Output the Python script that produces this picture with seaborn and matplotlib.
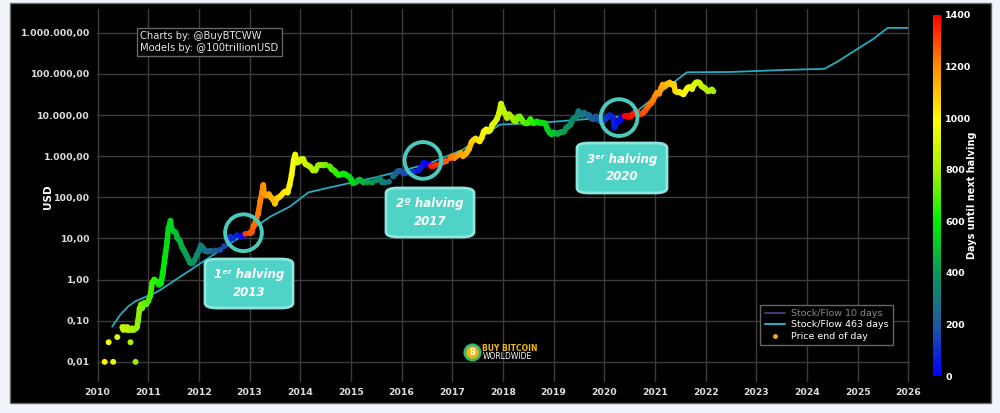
import numpy as np
import pandas as pd
import matplotlib
matplotlib.use("Agg")
import matplotlib.pyplot as plt
import seaborn as sns
from matplotlib.colors import LinearSegmentedColormap, Normalize
from matplotlib.collections import LineCollection
from matplotlib.lines import Line2D
from matplotlib.patches import FancyBboxPatch, Rectangle
from matplotlib.ticker import FuncFormatter, FixedLocator, NullLocator

# price end of day (decimal year, USD)
price_year = [
    2010.14, 2010.22, 2010.31, 2010.39, 2010.49, 2010.51, 2010.53, 2010.55, 2010.57, 2010.59,
    2010.61, 2010.63, 2010.65, 2010.66, 2010.68, 2010.70, 2010.72, 2010.75, 2010.76, 2010.78,
    2010.80, 2010.83, 2010.86, 2010.88, 2010.92,
    2010.96, 2011.00, 2011.04, 2011.08, 2011.12, 2011.17, 2011.21, 2011.25, 2011.29, 2011.33,
    2011.37, 2011.40, 2011.44, 2011.46, 2011.50, 2011.54, 2011.58, 2011.62, 2011.67, 2011.71,
    2011.75, 2011.79, 2011.83, 2011.87, 2011.92, 2011.96, 2012.00, 2012.04, 2012.08, 2012.12,
    2012.17, 2012.21, 2012.25, 2012.33, 2012.42, 2012.50, 2012.58, 2012.62, 2012.67, 2012.75,
    2012.83, 2012.88, 2012.92, 2013.00, 2013.04, 2013.08, 2013.12, 2013.17, 2013.21, 2013.25,
    2013.27, 2013.29, 2013.33, 2013.38, 2013.42, 2013.46, 2013.50, 2013.54, 2013.58, 2013.62,
    2013.67, 2013.71, 2013.75, 2013.79, 2013.83, 2013.87, 2013.90, 2013.94, 2013.98, 2014.02,
    2014.06, 2014.10, 2014.15, 2014.20, 2014.25, 2014.30, 2014.35, 2014.40, 2014.46, 2014.50,
    2014.58, 2014.62, 2014.67, 2014.71, 2014.75, 2014.80, 2014.85, 2014.90, 2014.96, 2015.00,
    2015.04, 2015.08, 2015.13, 2015.17, 2015.21, 2015.25, 2015.33, 2015.42, 2015.50, 2015.54,
    2015.58, 2015.62, 2015.67, 2015.75, 2015.83, 2015.88, 2015.92, 2015.96, 2016.00, 2016.04,
    2016.08, 2016.17, 2016.25, 2016.33, 2016.38, 2016.44, 2016.48, 2016.52, 2016.58, 2016.62,
    2016.67, 2016.75, 2016.79, 2016.83, 2016.88, 2016.96, 2017.00, 2017.04, 2017.08, 2017.13,
    2017.17, 2017.21, 2017.25, 2017.29, 2017.33, 2017.38, 2017.42, 2017.46, 2017.50, 2017.54,
    2017.58, 2017.62, 2017.67, 2017.71, 2017.75, 2017.79, 2017.83, 2017.88, 2017.92, 2017.96,
    2018.00, 2018.04, 2018.08, 2018.12, 2018.17, 2018.21, 2018.25, 2018.29, 2018.33, 2018.38,
    2018.42, 2018.46, 2018.50, 2018.54, 2018.58, 2018.62, 2018.67, 2018.71, 2018.75, 2018.79,
    2018.83, 2018.88, 2018.92, 2018.96, 2019.00, 2019.04, 2019.08, 2019.13, 2019.17, 2019.21,
    2019.25, 2019.29, 2019.33, 2019.38, 2019.42, 2019.46, 2019.49, 2019.52, 2019.56, 2019.60,
    2019.65, 2019.70, 2019.74, 2019.79, 2019.83, 2019.87, 2019.90, 2019.94, 2019.98, 2020.02,
    2020.06, 2020.10, 2020.13, 2020.17, 2020.20, 2020.23, 2020.27, 2020.31, 2020.33, 2020.36,
    2020.40, 2020.44, 2020.48, 2020.52, 2020.56, 2020.60, 2020.65, 2020.69, 2020.73, 2020.77,
    2020.81, 2020.85, 2020.88, 2020.92, 2020.96, 2021.00, 2021.04, 2021.08, 2021.12, 2021.15,
    2021.19, 2021.23, 2021.27, 2021.29, 2021.33, 2021.37, 2021.40, 2021.44, 2021.48, 2021.52,
    2021.56, 2021.58, 2021.62, 2021.65, 2021.69, 2021.73, 2021.77, 2021.81, 2021.85, 2021.88,
    2021.92, 2021.96, 2022.00, 2022.04, 2022.08, 2022.12, 2022.15,
]
price_usd = [
    0.01, 0.03, 0.01, 0.04, 0.07, 0.06, 0.07, 0.065, 0.06, 0.07,
    0.06, 0.06, 0.03, 0.06, 0.065, 0.06, 0.06, 0.01, 0.065, 0.07,
    0.10, 0.20, 0.25, 0.20, 0.27,
    0.25, 0.30, 0.40, 0.85, 1.0, 0.90, 0.75, 0.80, 1.5, 3.5,
    8.0, 18.0, 27.0, 17.0, 15.0, 14.0, 10.0, 9.0, 6.0, 5.0,
    4.0, 3.2, 2.5, 2.5, 3.0, 4.0, 5.0, 6.8, 6.0, 5.0,
    4.8, 4.9, 5.0, 5.1, 5.3, 6.5, 8.5, 11.0, 10.0, 12.0,
    11.0, 12.0, 13.0, 13.5, 14.0, 20.0, 26.0, 40.0, 80.0, 140.0,
    200.0, 120.0, 110.0, 120.0, 100.0, 90.0, 70.0, 95.0, 100.0, 110.0,
    130.0, 140.0, 130.0, 200.0, 350.0, 800.0, 1100.0, 700.0, 750.0, 850.0,
    850.0, 650.0, 600.0, 550.0, 450.0, 450.0, 600.0, 620.0, 600.0, 620.0,
    570.0, 480.0, 450.0, 390.0, 350.0, 360.0, 380.0, 360.0, 320.0, 280.0,
    220.0, 230.0, 250.0, 270.0, 250.0, 230.0, 235.0, 230.0, 260.0, 280.0,
    270.0, 230.0, 230.0, 240.0, 320.0, 380.0, 430.0, 440.0, 430.0, 380.0,
    390.0, 415.0, 420.0, 450.0, 530.0, 700.0, 650.0, 660.0, 580.0, 575.0,
    610.0, 630.0, 700.0, 730.0, 760.0, 900.0, 1000.0, 900.0, 1000.0, 1100.0,
    1200.0, 1000.0, 1100.0, 1250.0, 1500.0, 2200.0, 2500.0, 2700.0, 2500.0, 2300.0,
    2800.0, 4000.0, 4500.0, 4000.0, 4300.0, 5800.0, 6500.0, 8000.0, 11000.0, 19000.0,
    14000.0, 11000.0, 8500.0, 10500.0, 9000.0, 7500.0, 7000.0, 9000.0, 9300.0, 7500.0,
    6500.0, 6300.0, 6500.0, 8000.0, 6500.0, 6400.0, 7000.0, 6500.0, 6600.0, 6400.0,
    6300.0, 4500.0, 3700.0, 3400.0, 3800.0, 3600.0, 3500.0, 3800.0, 3900.0, 4000.0,
    5000.0, 5300.0, 5800.0, 8000.0, 8500.0, 9500.0, 12500.0, 11000.0, 10000.0, 11500.0,
    10200.0, 10000.0, 8300.0, 8000.0, 9300.0, 8500.0, 7300.0, 7200.0, 7200.0, 8000.0,
    9000.0, 10000.0, 9700.0, 8700.0, 5000.0, 6500.0, 6800.0, 7500.0, 8800.0, 9000.0,
    9500.0, 9700.0, 9200.0, 9300.0, 10500.0, 11500.0, 11800.0, 10500.0, 10700.0, 11500.0,
    13000.0, 15500.0, 18000.0, 19000.0, 23000.0, 29000.0, 35000.0, 33000.0, 45000.0, 55000.0,
    50000.0, 57000.0, 59000.0, 62000.0, 55000.0, 57000.0, 38000.0, 36000.0, 37000.0, 34000.0,
    32000.0, 35000.0, 42000.0, 47000.0, 48000.0, 43000.0, 55000.0, 62000.0, 63000.0, 60000.0,
    50000.0, 47000.0, 43000.0, 38000.0, 39000.0, 42000.0, 38000.0,
]

# stock/flow 463 days model line
sf_year = [2010.29, 2010.45, 2010.60, 2010.75, 2010.95, 2011.10, 2011.24, 2011.83, 2012.82,
           2013.41, 2013.80, 2014.16, 2014.50, 2014.99, 2015.50, 2015.97, 2016.56, 2017.21,
           2017.94, 2018.50, 2019.00, 2019.65, 2019.97, 2020.35, 2020.64, 2021.10, 2021.63,
           2022.50, 2023.00, 2023.50, 2024.34, 2024.60, 2024.97, 2025.30, 2025.59, 2025.98]
sf_usd = [0.072, 0.14, 0.22, 0.30, 0.38, 0.45, 0.56, 1.7, 11.0,
          34.0, 60.0, 132.0, 165.0, 225.0, 310.0, 430.0, 680.0, 1450.0,
          5900.0, 6300.0, 6900.0, 8000.0, 8400.0, 9200.0, 12400.0, 35000.0, 110000.0,
          112000.0, 118000.0, 125000.0, 133000.0, 200000.0, 390000.0, 700000.0, 1320000.0, 1320000.0]

halving_year = [2012.91, 2016.52, 2020.36, 2024.30]
halving_mark_year = [2012.88, 2016.42, 2020.29]
halving_mark_usd = [13.8, 790.0, 8700.0]
halving_text = ["1ᵉʳ halving\n2013", "2º halving\n2017", "3ᵉʳ halving\n2020"]
# label boxes (figure pixels: left, top, right, bottom)
halving_box_px = [(205, 259, 293, 308), (386, 188, 474, 237), (577, 143, 667, 193)]

year_ticks = list(range(2010, 2027))
usd_ticks = [0.01, 0.1, 1, 10, 100, 1e3, 1e4, 1e5, 1e6]
cbar_ticks = [0, 200, 400, 600, 800, 1000, 1200, 1400]

df = pd.DataFrame({"year": price_year, "usd": price_usd})
nxt = np.searchsorted(halving_year, df["year"].values)
df["days"] = (np.array(halving_year)[nxt] - df["year"].values) * 365.25

cmap = LinearSegmentedColormap.from_list("halving", [
    (0.0, "#0000ff"), (0.14, "#1e5a9e"), (0.29, "#0a9a5a"), (0.43, "#00f000"),
    (0.57, "#a8f000"), (0.71, "#ffff00"), (0.86, "#ff8c00"), (1.0, "#ff0000")])
norm = Normalize(0, 1400)

sns.set_style("dark")
plt.rcParams["font.family"] = ["DejaVu Sans"]

W, H = 1000, 413
fig = plt.figure(figsize=(10, 4.13), dpi=100, facecolor="#f0f4fa")
fig.patches.append(Rectangle((10 / W, 1 - 403 / H), 981 / W, 400 / H, transform=fig.transFigure,
                             facecolor="black", edgecolor="#6a6a6a", lw=1, zorder=-5))

ax = fig.add_axes([97 / W, 1 - 382 / H, 813 / W, 373 / H])
ax.set_zorder(1)
ax.set_facecolor("black")
ax.set_yscale("log")
ax.set_xlim(2009.99, 2026.03)
ax.set_ylim(10 ** -2.49, 10 ** 6.58)
for s in ax.spines.values():
    s.set_visible(False)

ax.xaxis.set_major_locator(FixedLocator(year_ticks))
ax.yaxis.set_major_locator(FixedLocator(usd_ticks))
ax.yaxis.set_minor_locator(NullLocator())
ax.yaxis.set_major_formatter(FuncFormatter(
    lambda v, p: f"{v:,.2f}".replace(",", "X").replace(".", ",").replace("X", ".")))
ax.xaxis.set_major_formatter(FuncFormatter(lambda v, p: f"{int(v)}"))
ax.grid(True, color="#3c3c3c", lw=1)
ax.tick_params(axis="both", length=0, colors="#dddddd", labelsize=6.7)
ax.tick_params(axis="y", pad=5)
ax.tick_params(axis="x", pad=4)

# stock/flow model
ax.plot(sf_year, sf_usd, color="#22adc0", lw=1.3, zorder=2)

# price coloured by days until next halving (early stray prints stay as dots)
yr = df["year"].values
lined = (yr >= 2010.45) & ~((yr < 2010.8) & (df["usd"].values < 0.05))
pts = np.column_stack([yr, df["usd"].values])
segs = np.stack([pts[:-1], pts[1:]], axis=1)
keep = (np.diff(yr) < 0.06) & lined[:-1] & lined[1:]
lc = LineCollection(segs[keep], cmap=cmap, norm=norm, linewidth=4, zorder=3)
lc.set_array(df["days"].values[:-1][keep])
ax.add_collection(lc)
sns.scatterplot(data=df, x="year", y="usd", hue="days", palette=cmap, hue_norm=norm,
                s=18, linewidth=0, legend=False, ax=ax, zorder=4)
ax.set_xlabel("")
ax.set_ylabel("USD", color="white", fontsize=7.5, fontweight="bold")
ax.yaxis.set_label_coords(-0.054, 0.496)
for lab in ax.get_yticklabels() + ax.get_xticklabels():
    lab.set_fontweight("bold")

# halving circles
ax.scatter(halving_mark_year, halving_mark_usd, s=700, facecolors="none",
           edgecolors="#4cc9bd", linewidths=2.8, zorder=5)
for (l, t, r, b), txt in zip(halving_box_px, halving_text):
    fig.patches.append(FancyBboxPatch((l / W, 1 - b / H), (r - l) / W, (b - t) / H,
                                      boxstyle="round,pad=0,rounding_size=0.012",
                                      transform=fig.transFigure, facecolor="#4fd3c6",
                                      edgecolor="#8ee6dc", lw=2, zorder=6))
    fig.text((l + r) / 2 / W, 1 - (t + b) / 2 / H, txt, ha="center", va="center",
             color="white", fontsize=8.5, fontweight="bold", style="italic",
             linespacing=1.5, zorder=7)

# credits box
fig.text(140 / W, 1 - 42 / H, "Charts by: @BuyBTCWW\nModels by: @100trillionUSD",
         color="#e6e6e6", fontsize=7.2, va="center", ha="left",
         linespacing=1.2, zorder=7,
         bbox=dict(boxstyle="square,pad=0.35", facecolor="black", edgecolor="#666666", lw=1))

# logo
ax.plot([0.461], [0.080], marker="o", ms=11, mfc="#f2b705", mec="#3cb371", mew=2,
        transform=ax.transAxes, zorder=6)
ax.text(0.461, 0.080, "B", transform=ax.transAxes, color="white", fontsize=5.5,
        fontweight="bold", ha="center", va="center", zorder=7)
ax.text(0.474, 0.091, "BUY BITCOIN", transform=ax.transAxes, color="#f0b90b",
        fontsize=5.5, fontweight="bold", va="center")
ax.text(0.474, 0.069, "WORLDWIDE", transform=ax.transAxes, color="white",
        fontsize=5.5, va="center")

# legend
handles = [Line2D([], [], color="#3c3a6e", lw=1.5),
           Line2D([], [], color="#22adc0", lw=1.5),
           Line2D([], [], color="#f5a623", marker="o", ms=2.5, lw=0)]
leg = ax.legend(handles, ["Stock/Flow 10 days", "Stock/Flow 463 days", "Price end of day"],
                loc="lower right", bbox_to_anchor=(0.979, 0.099), borderaxespad=0,
                fontsize=6.8, frameon=True,
                fancybox=False, facecolor="black", edgecolor="#666666", framealpha=1,
                handlelength=2.2, borderpad=0.45, labelspacing=0.25, handletextpad=0.6)
for i, t in enumerate(leg.get_texts()):
    t.set_color("#888888" if i == 0 else "white")

# colorbar
cax = fig.add_axes([933 / W, 1 - 376 / H, 8 / W, 361 / H])
cax.set_zorder(1)
sm = plt.cm.ScalarMappable(norm=norm, cmap=cmap)
cb = fig.colorbar(sm, cax=cax, ticks=cbar_ticks)
cb.outline.set_visible(False)
cax.tick_params(length=0, colors="white", labelsize=6.8, pad=3)
for lab in cax.get_yticklabels():
    lab.set_fontweight("bold")
cb.set_label("Days until next halving", color="white", fontsize=7, fontweight="bold", labelpad=-3)

fig.savefig("out.png", dpi=100, facecolor=fig.get_facecolor())
